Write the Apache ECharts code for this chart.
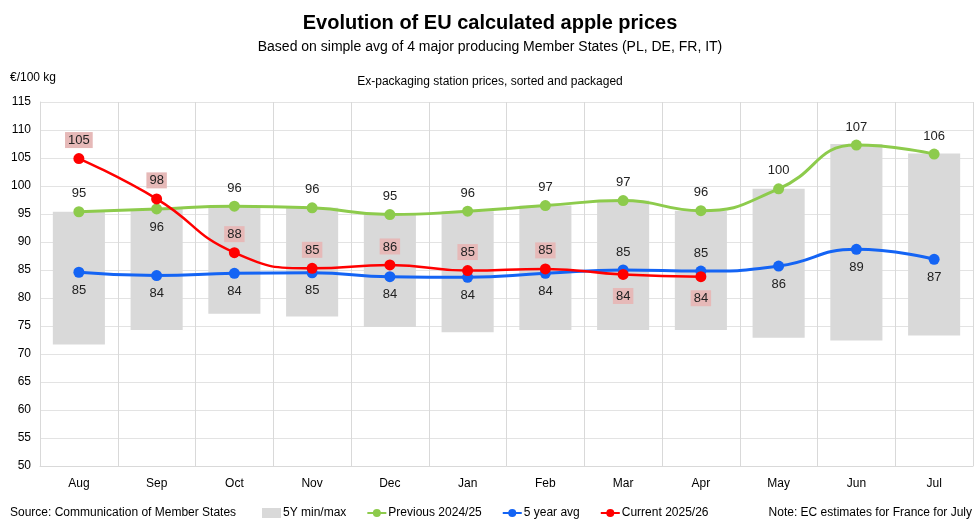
<!DOCTYPE html>
<html><head><meta charset="utf-8">
<script src="https://cdn.jsdelivr.net/npm/echarts@6/dist/echarts.min.js"></script>
<style>html,body{margin:0;padding:0;background:#fff}#c{width:980px;height:523px}</style>
</head><body><div id="c"></div>
<script>
const months = ['Aug','Sep','Oct','Nov','Dec','Jan','Feb','Mar','Apr','May','Jun','Jul'];
const yTicks = [50,55,60,65,70,75,80,85,90,95,100,105,110,115];
const minVals = [71.7,74.3,77.2,76.7,74.8,73.9,74.3,74.3,74.3,72.9,72.4,73.3];
const maxVals = [95.4,95.9,96.4,96.1,94.9,95.5,96.5,97.4,95.6,99.5,107.5,105.8];
const previous = [95.4,95.9,96.4,96.1,94.9,95.5,96.5,97.4,95.6,99.5,107.3,105.7];
const avg5 = [84.6,84.0,84.4,84.5,83.8,83.7,84.4,85.0,84.8,85.7,88.7,86.9];
const current = [104.9,97.7,88.1,85.3,85.9,84.9,85.2,84.2,83.8];

const greenBelow = ['Sep'];
const blueAbove = ['Mar','Apr'];
const redBelow = ['Mar','Apr'];
const font = 'Liberation Sans, Arial, sans-serif';

const chart = echarts.init(document.getElementById('c'));
const lbl = {show:true, fontFamily:font, fontSize:13, color:'#222', formatter: p => Math.round(p.value)};

chart.setOption({
  animation:false,
  textStyle:{fontFamily:font},
  title:[
    {text:'Evolution of EU calculated apple prices', left:'center', top:8, textStyle:{fontSize:20, fontWeight:'bold', color:'#000', fontFamily:font}},
    {text:'Based on simple avg of 4 major producing Member States (PL, DE, FR, IT)', left:'center', top:35, textStyle:{fontSize:14, fontWeight:'normal', color:'#000', fontFamily:font}},
    {text:'€/100 kg', left:5, top:67, textStyle:{fontSize:12, fontWeight:'normal', color:'#000', fontFamily:font}},
    {text:'Ex-packaging station prices, sorted and packaged', left:'center', top:71, textStyle:{fontSize:12, fontWeight:'normal', color:'#000', fontFamily:font}},
    {text:'Source: Communication of Member States', left:5, top:502, textStyle:{fontSize:12, fontWeight:'normal', color:'#000', fontFamily:font}},
    {text:'Note: EC estimates for France for July', right:3, top:502, textStyle:{fontSize:12, fontWeight:'normal', color:'#000', fontFamily:font}}
  ],
  legend:{
    data:[{name:'5Y min/max', icon:'rect'}, 'Previous 2024/25', '5 year avg', 'Current 2025/26'],
    left:257, top:502, itemWidth:19, itemHeight:10, itemGap:20,
    textStyle:{fontSize:12, color:'#000', fontFamily:font, padding:[0,0,0,-3]}
  },
  grid:{left:40, right:7, top:102, bottom:57},
  xAxis:{
    type:'category', data:months, boundaryGap:true,
    axisLine:{show:true, lineStyle:{color:'#d9d9d9'}},
    axisTick:{show:false},
    axisLabel:{color:'#000', fontSize:12, margin:12, fontFamily:font},
    splitLine:{show:true, interval:0, lineStyle:{color:'#d9d9d9'}}
  },
  yAxis:{
    type:'value', min:yTicks[0], max:yTicks[yTicks.length-1], interval:5,
    axisLine:{show:true, lineStyle:{color:'#d9d9d9'}},
    axisTick:{show:false},
    axisLabel:{color:'#000', fontSize:12, margin:9, fontFamily:font},
    splitLine:{show:true, lineStyle:{color:'#e3e3e3'}}
  },
  series:[
    {name:'base', type:'bar', stack:'mm', barWidth:'67%', itemStyle:{color:'transparent'}, data:minVals, silent:true},
    {name:'5Y min/max', type:'bar', stack:'mm', barWidth:'67%', itemStyle:{color:'#d9d9d9'},
      data:maxVals.map((v,i)=>+(v-minVals[i]).toFixed(2))},
    {name:'Previous 2024/25', type:'line', smooth:true, symbol:'circle', symbolSize:11,
      lineStyle:{width:3, color:'#8dcb4c'}, itemStyle:{color:'#8dcb4c'},
      label:Object.assign({}, lbl, {position:'top', distance:6}),
      data:previous.map((v,i)=> greenBelow.includes(months[i]) ? {value:v, label:{position:'bottom', distance:6}} : v), z:3},
    {name:'5 year avg', type:'line', smooth:true, symbol:'circle', symbolSize:11,
      lineStyle:{width:3, color:'#1464f4'}, itemStyle:{color:'#1464f4'},
      label:Object.assign({}, lbl, {position:'bottom', distance:6}),
      data:avg5.map((v,i)=> blueAbove.includes(months[i]) ? {value:v, label:{position:'top', distance:6}} : v), z:4},
    {name:'Current 2025/26', type:'line', smooth:true, symbol:'circle', symbolSize:11,
      lineStyle:{width:2.5, color:'#ff0000'}, itemStyle:{color:'#ff0000'},
      label:Object.assign({}, lbl, {position:'top', distance:5, backgroundColor:'#e6b9b8', padding:[2,3,1,3]}),
      data:current.map((v,i)=> redBelow.includes(months[i]) ? {value:v, label:{position:'bottom', distance:8}} : v), z:5}
  ]
});
</script></body></html>
